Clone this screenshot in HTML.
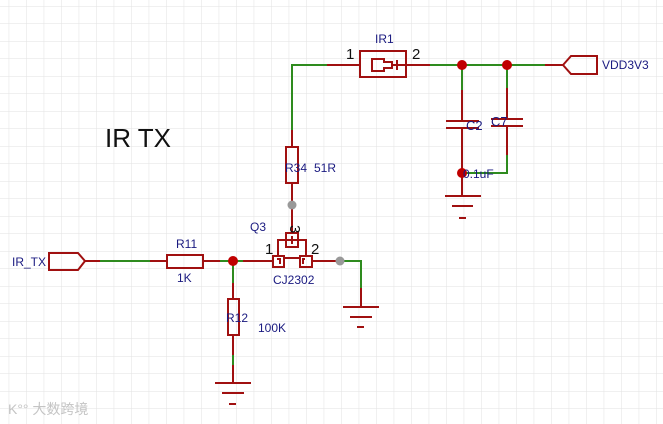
<!DOCTYPE html>
<html><head><meta charset="utf-8"><style>
html,body{margin:0;padding:0;background:#fff}
svg{display:block}
text{font-family:"Liberation Sans",sans-serif}
</style></head><body>
<svg width="663" height="424" viewBox="0 0 663 424" xmlns="http://www.w3.org/2000/svg">
<defs>
<pattern id="g" x="8.7" y="6" width="17.5" height="17.5" patternUnits="userSpaceOnUse">
<path d="M0 0H17.5M0 0V17.5" stroke="#e2e2e2" stroke-width="1" fill="none"/>
</pattern>
</defs>
<rect width="663" height="424" fill="url(#g)"/>
<g fill="none" stroke-width="2">
<path d="M292 130V65H327" stroke="#2e8b1e"/>
<path d="M327 65H360M292 130V147M292 183V205M406 65H430" stroke="#a01010"/>
<path d="M430 65H545" stroke="#2e8b1e"/>
<path d="M545 65H563" stroke="#a01010"/>
<rect x="360" y="51" width="46" height="26" stroke="#a01010"/>
<path d="M372 59H384V62H392V68H384V71H372Z" stroke="#a01010"/>
<path d="M397 60V70M392 65H406" stroke="#a01010"/>
<rect x="286" y="147" width="12" height="36" stroke="#a01010"/>
<path d="M563 65L571 56H597V74H571Z" stroke="#a01010"/>
<path d="M462 65V90M462 170V173H507V155M507 65V88" stroke="#2e8b1e"/>
<path d="M462 90V121M462 128V170M446 121H479M446 128H479M507 88V119M507 126V155M491 119H523M491 126H523" stroke="#a01010"/>
<path d="M462 173V196M445 196H481M452 206H473M459 218H466" stroke="#a01010"/>
<path d="M49 253H78L85 261L78 270H49Z" stroke="#a01010"/>
<path d="M85 261H100M150 261H167M203 261H220M243 261H273M312 261H340M233 283V299M233 335V355M233 365V383M361 288V307" stroke="#a01010"/>
<path d="M100 261H150M220 261H243M233 261V283M233 355V365M340 261H361V288" stroke="#2e8b1e"/>
<rect x="167" y="255" width="36" height="13" stroke="#a01010"/>
<rect x="228" y="299" width="11" height="36" stroke="#a01010"/>
<path d="M215 383H251M222 393H244M229 404H236M343 307H379M350 317H372M357 327H364" stroke="#a01010"/>
<rect x="273" y="256" width="11" height="11" stroke="#a01010"/>
<rect x="300" y="256" width="12" height="11" stroke="#a01010"/>
<rect x="286" y="233" width="12" height="14" stroke="#a01010"/>
<path d="M278 256V240H306V256M284 258H300M292 205V233M277 259H280V264M305 259H303V264M292 236V244" stroke="#a01010"/>
</g>
<g fill="#c00000">
<circle cx="462" cy="65" r="5"/><circle cx="507" cy="65" r="5"/><circle cx="462" cy="173" r="5"/><circle cx="233" cy="261" r="5"/>
</g>
<g fill="#999"><circle cx="292" cy="205" r="4.5"/><circle cx="340" cy="261" r="4.5"/></g>
<g font-size="12" fill="#1a1a80">
<text x="375" y="43">IR1</text>
<text x="602" y="69">VDD3V3</text>
<text x="285" y="172">R34</text><text x="314" y="172">51R</text>
<text x="466" y="130" font-size="13">C2</text><text x="491" y="126" font-size="13">C7</text>
<text x="463" y="178">0.1uF</text>
<text x="12" y="266">IR_TX</text>
<text x="176" y="248">R11</text><text x="177" y="282">1K</text>
<text x="226" y="322">R12</text><text x="258" y="332">100K</text>
<text x="250" y="231">Q3</text><text x="273" y="284">CJ2302</text>
</g>
<g font-size="15" fill="#111">
<text x="346" y="59">1</text><text x="412" y="59">2</text>
<text x="265" y="254">1</text><text x="311" y="254">2</text>
<text x="285" y="230" transform="rotate(90 290 230)">3</text>
</g>
<text x="105" y="147" font-size="26" fill="#111">IR TX</text>
<text x="8" y="414" font-size="14" fill="#c4c4c4" font-family="'Liberation Sans','Noto Sans CJK SC',sans-serif">K°° 大数跨境</text>
</svg>
</body></html>
